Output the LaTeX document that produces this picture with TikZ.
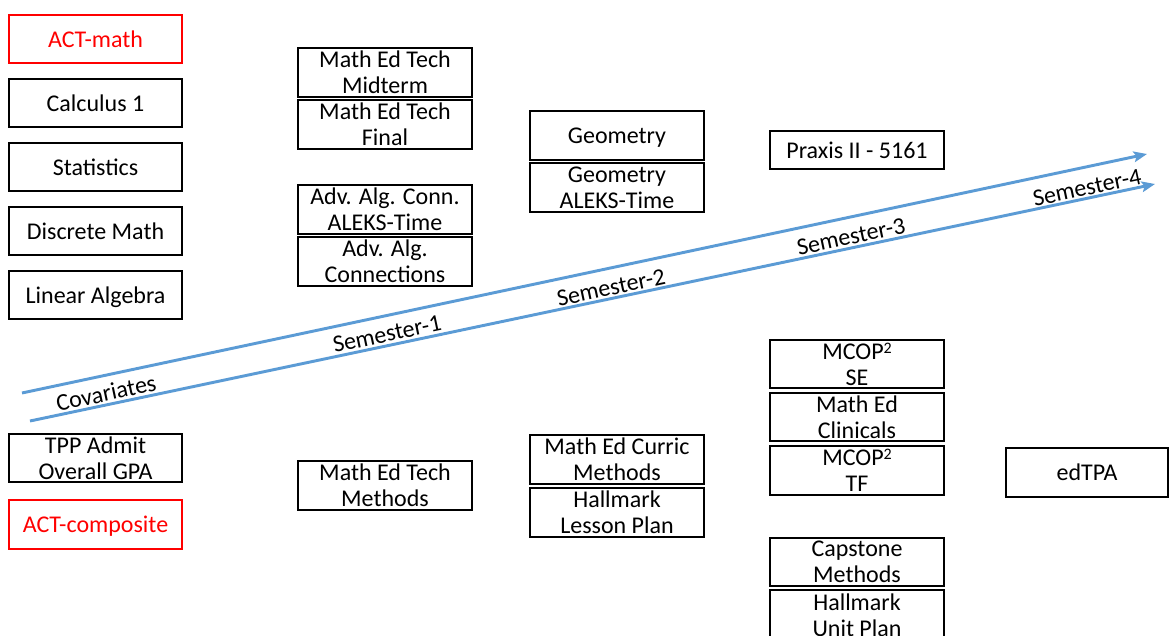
\documentclass[tikz,border=0pt]{standalone}
\usepackage{fontspec}
\setmainfont{Carlito}
\usetikzlibrary{arrows.meta}
\definecolor{arrowblue}{RGB}{91,155,213}
\definecolor{actred}{RGB}{255,0,0}
\newcommand{\sqmark}{{\fontsize{12}{12}\selectfont\raisebox{4.5pt}{2}}}
\begin{document}
\begin{tikzpicture}[x=0.75pt,y=-0.75pt,
  box/.style={draw=black, line width=1.1pt, inner sep=0pt, align=center,
    minimum width=130.5pt, minimum height=36.75pt,
    font=\fontsize{18}{19.5}\selectfont},
  oneline/.style={text height=14pt, text depth=1.5pt},
  redbox/.style={box, oneline, draw=actred, text=actred},
  shortbox/.style={box, minimum height=36pt},
  timeline/.style={draw=arrowblue, line width=2.2pt,
    -{Stealth[length=10pt,width=8pt,inset=2pt]}},
  semlabel/.style={inner sep=0pt, rotate=12, font=\fontsize{18}{19.5}\selectfont}]
\useasboundingbox (0,0) rectangle (1169,635);
\clip (0,0) rectangle (1169,635);
% column 1
\node[redbox, minimum width=129.75pt, minimum height=36pt] (actmath) at (95.5,39) {ACT-math};
\node[shortbox, oneline, minimum width=129.75pt] (calc) at (95.5,103) {Calculus 1};
\node[shortbox, oneline, minimum width=129.75pt] (stat) at (95.5,167) {Statistics};
\node[shortbox, oneline, minimum width=129.75pt] (disc) at (95.5,231) {Discrete Math};
\node[shortbox, oneline, minimum width=129.75pt] (linalg) at (95.5,295) {Linear Algebra};
\node[shortbox, minimum width=129.75pt] (tpp) at (95.5,458) {TPP Admit\\Overall GPA};
\node[redbox, minimum width=129.75pt] (actcomp) at (95.5,524.5) {ACT-composite};
% column 2
\node[box] (midterm) at (385,72.5) {Math Ed Tech\\Midterm};
\node[box] (final) at (385,124.5) {Math Ed Tech\\Final};
\node[box] (aacaleks) at (385,209.5) {Adv. Alg. Conn.\\ALEKS-Time};
\node[box] (aac) at (385,261.5) {Adv. Alg.\\Connections};
\node[box] (metmeth) at (385,485.5) {Math Ed Tech\\Methods};
% column 3
\node[box, oneline] (geom) at (617,135.5) {Geometry};
\node[box] (geomaleks) at (617,187.5) {Geometry\\ALEKS-Time};
\node[box] (curric) at (617,459.5) {Math Ed Curric\\Methods};
\node[box] (hlp) at (617,512.5) {Hallmark\\Lesson Plan};
% column 4
\node[box, oneline, minimum height=28.5pt] (praxis) at (857,150) {Praxis II - 5161};
\node[box, minimum height=36pt] (mcopse) at (857,364) {MCOP\sqmark\\SE};
\node[box, minimum height=36pt] (clin) at (857,417) {Math Ed\\Clinicals};
\node[box] (mcoptf) at (857,470.5) {MCOP\sqmark\\TF};
\node[box, minimum height=36pt] (capstone) at (857,562) {Capstone\\Methods};
\node[box, minimum height=37.5pt] (hup) at (857,615) {Hallmark\\Unit Plan};
% edTPA
\node[box, oneline, minimum width=121.5pt] (edtpa) at (1087,472.5) {edTPA};
% timeline arrows
\coordinate (upA) at (22,393);
\coordinate (upB) at (1147,154);
\coordinate (loA) at (30,421);
\coordinate (loB) at (1155,184);
\draw[timeline] (upA) -- (upB);
\draw[timeline] (loA) -- (loB);
% labels
\node[semlabel] (cov) at (106,393) {Covariates};
\node[semlabel] (sem1) at (387,334) {Semester-1};
\node[semlabel] (sem2) at (611,287.5) {Semester-2};
\node[semlabel] (sem3) at (851,236.5) {Semester-3};
\node[semlabel] (sem4) at (1087,187.5) {Semester-4};
\end{tikzpicture}
\end{document}
